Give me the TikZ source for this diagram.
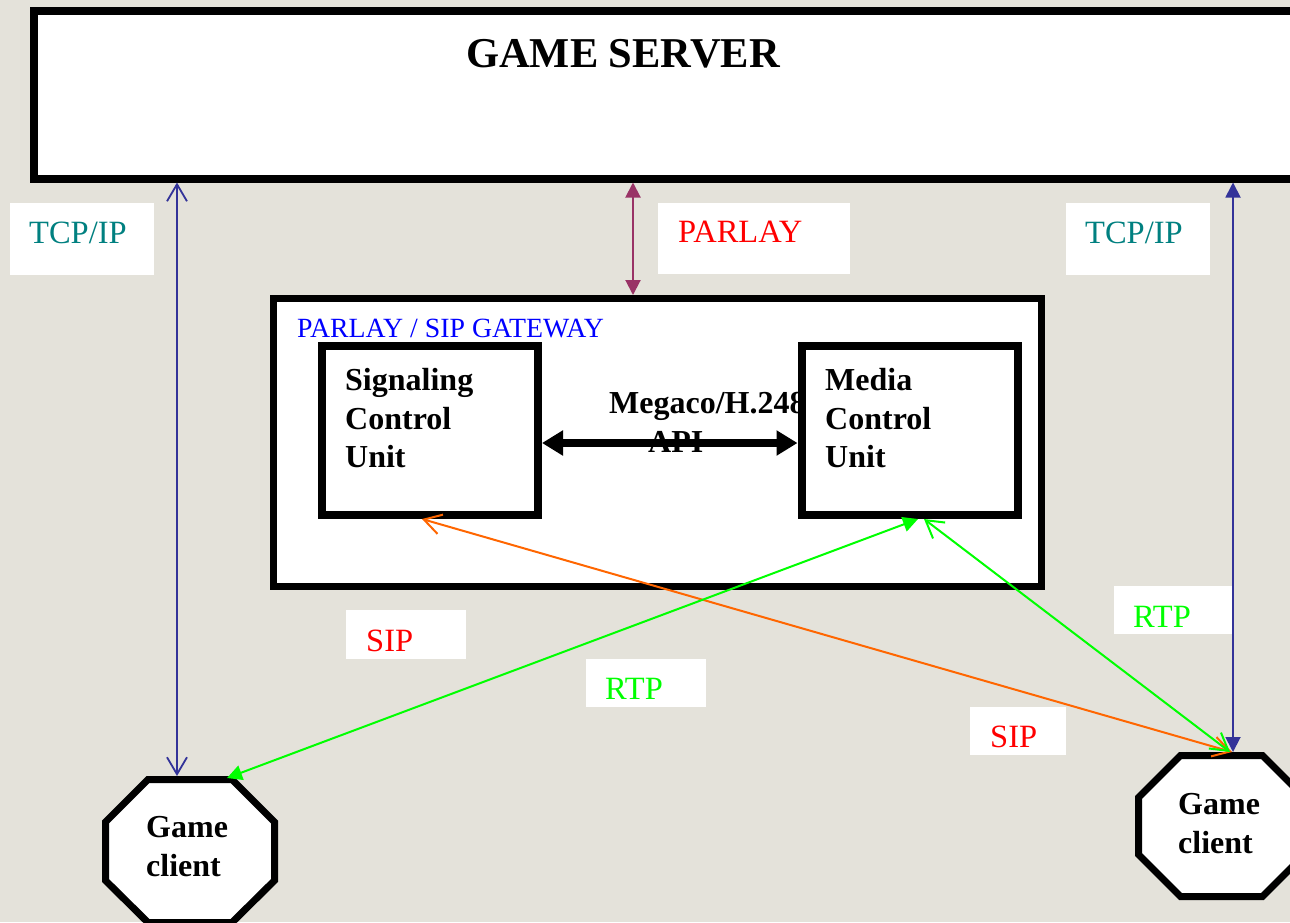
\documentclass[tikz,border=0pt]{standalone}
\usepackage{fontspec}
\setmainfont{Liberation Serif}
\usetikzlibrary{arrows.meta}

\definecolor{bg}{RGB}{228,226,218}
\definecolor{tcpblue}{RGB}{51,51,153}
\definecolor{parlayline}{RGB}{153,51,102}
\definecolor{siporange}{RGB}{255,102,0}
\definecolor{rtpgreen}{RGB}{0,255,0}
\definecolor{tealtext}{RGB}{0,128,128}
\definecolor{gwblue}{RGB}{0,0,255}
\definecolor{sipred}{RGB}{255,0,0}

\tikzset{
  box/.style={rectangle, draw=black, fill=white, inner sep=0pt},
  unitlabel/.style={font=\bfseries\fontsize{32}{38.5}\selectfont, inner sep=0pt, align=left, anchor=north west},
  proto/.style={font=\fontsize{32.5}{37}\selectfont, inner sep=0pt, anchor=base west},
  octagon/.style={draw=black, fill=white, line width=7pt, line join=miter},
  openends/.style={arrows={Straight Barb[length=17pt,width=20pt]-Straight Barb[length=17pt,width=20pt]}},
  solidends/.style={arrows={Triangle[length=15pt,width=15pt]-Triangle[length=15pt,width=15pt]}},
  tcplink/.style={draw=tcpblue, line width=1.8pt},
  siplink/.style={draw=siporange, line width=2pt, openends},
  rtplink/.style={draw=rtpgreen, line width=2pt},
}

\begin{document}
\begin{tikzpicture}[x=1pt,y=-1pt]
\useasboundingbox (0,0) rectangle (1290,922);
\clip (0,0) rectangle (1290,922);
\fill[bg] (0,0) rectangle (1290,922);

% white tags behind the protocol names
\fill[white] (10,203) rectangle (154,275);
\fill[white] (1066,203) rectangle (1210,275);
\fill[white] (658,203) rectangle (850,274);
\fill[white] (346,610) rectangle (466,659);
\fill[white] (586,659) rectangle (706,707);
\fill[white] (1114,586) rectangle (1234,634);
\fill[white] (970,707) rectangle (1066,755);

\node[proto, text=tealtext] (tcpLtxt) at (29,243) {TCP/IP};
\node[proto, text=tealtext] (tcpRtxt) at (1085,243) {TCP/IP};
\node[proto, text=sipred] (parlaytxt) at (678,242) {PARLAY};
\node[proto, text=sipred] (sipLtxt) at (366,651) {SIP};
\node[proto, text=rtpgreen] (rtpMtxt) at (605,699) {RTP};
\node[proto, text=rtpgreen] (rtpRtxt) at (1133,627) {RTP};
\node[proto, text=sipred] (sipRtxt) at (990,747) {SIP};

% game server
\node[box, line width=8pt, minimum width=1296.5pt, minimum height=168pt] (server) at (681.75,94.5) {};
\node[font=\bfseries\fontsize{42.5}{50}\selectfont, inner sep=0pt, anchor=base] (title) at (623,67) {GAME SERVER};

% gateway and its two units
\node[box, line width=7pt, minimum width=768pt, minimum height=288pt] (gw) at (657.5,442.5) {};
\node[font=\fontsize{27.8}{32}\selectfont, text=gwblue, inner sep=0pt, anchor=base west] (gwtxt) at (297,337) {PARLAY / SIP GATEWAY};

\node[box, line width=8pt, minimum width=216.5pt, minimum height=169pt] (scu) at (429.75,430.5) {};
\node[unitlabel] (scutxt) at (345,368.3) {Signaling\\Control\\Unit};

\node[font=\bfseries\fontsize{32}{38.5}\selectfont, inner sep=0pt, anchor=base west] (meg1) at (609,413) {Megaco/H.248};
\node[font=\bfseries\fontsize{32}{38.5}\selectfont, inner sep=0pt, anchor=base west] (meg2) at (648,452) {API};

\node[box, line width=8pt, minimum width=216pt, minimum height=169pt] (mcu) at (909.5,430.5) {};
\node[unitlabel] (mcutxt) at (825,368.3) {Media\\Control\\Unit};

% game clients
\draw[octagon] (148,779.5) -- (232,779.5) -- (274.5,822) -- (274.5,880.5) -- (232,922.5)
  -- (148,922.5) -- (105.5,880.5) -- (105.5,822) -- cycle;
\node[unitlabel] (clientL) at (146,816.3) {Game\\client};

\draw[octagon] (1180.5,755.5) -- (1262.5,755.5) -- (1304.5,797.5) -- (1304.5,854.5)
  -- (1262.5,896.5) -- (1180.5,896.5) -- (1138.5,854.5) -- (1138.5,797.5) -- cycle;
\node[unitlabel] (clientR) at (1178,793.3) {Game\\client};

\coordinate (cLtcp) at (177,776);
\coordinate (cLrtp) at (227,778);
\coordinate (cRtcp) at (1233,752);
\coordinate (cRsip) at (1232,752);
\coordinate (cRrtp) at (1230,752);

% connectors
\draw[tcplink, openends] (177,0 |- server.south) -- (cLtcp);
\draw[tcplink, solidends] (1233,0 |- server.south) -- (cRtcp);
\draw[draw=parlayline, line width=2pt, solidends] (633,0 |- server.south) -- (633,0 |- gw.north);
\draw[line width=8pt, arrows={Triangle[length=21pt,width=24pt]-Triangle[length=21pt,width=24pt]}]
  (scu.east |- 0,443) -- (mcu.west |- 0,443);
\draw[siplink] (422,0 |- scu.south) -- (cRsip);
\draw[rtplink, solidends] (918,0 |- mcu.south) -- (cLrtp);
\draw[rtplink, openends] (924,0 |- mcu.south) -- (cRrtp);
\end{tikzpicture}
\end{document}
